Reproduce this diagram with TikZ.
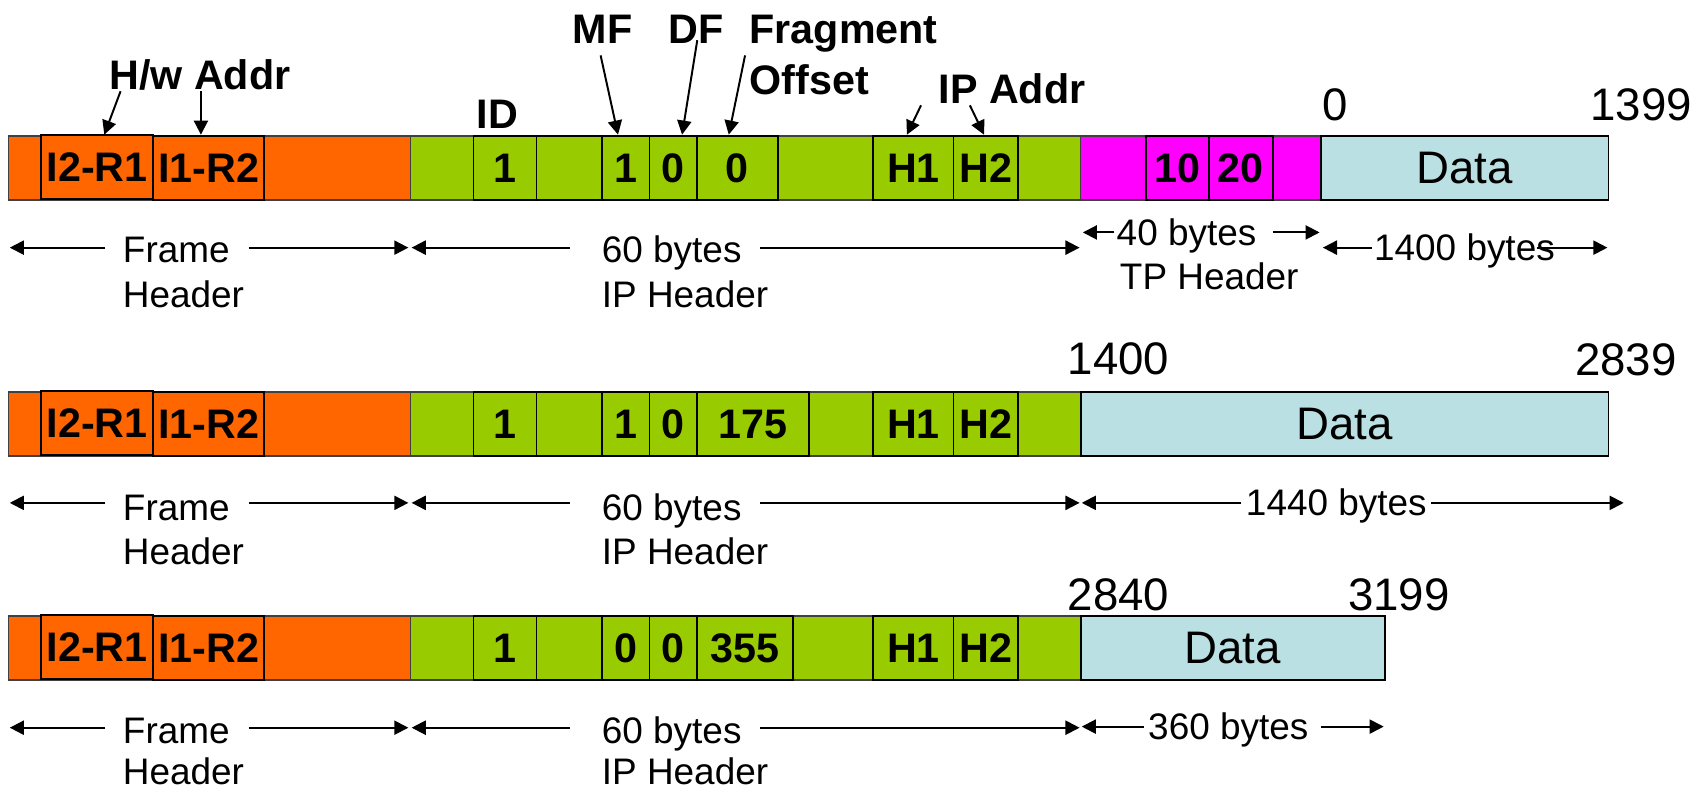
\documentclass[tikz,border=0pt]{standalone}
\usepackage{fontspec}
\setmainfont{Liberation Sans}
\usetikzlibrary{arrows.meta}
\definecolor{orng}{RGB}{255,102,0}
\definecolor{grn}{RGB}{153,204,0}
\definecolor{mag}{RGB}{255,0,255}
\definecolor{lblue}{RGB}{187,224,227}
\tikzset{
  cellbox/.style={draw=black, line width=1.6pt, inner sep=0pt, outer sep=0pt,
    anchor=north west, minimum height=59pt, font=\bfseries\fontsize{38}{40}\selectfont},
  basebox/.style={cellbox, draw=black!75, line width=1.4pt},
  lbl/.style={inner sep=0pt, font=\fontsize{34}{36}\selectfont},
  blbl/.style={inner sep=0pt, font=\bfseries\fontsize{38}{40}\selectfont},
  num/.style={inner sep=0pt, font=\fontsize{42}{44}\selectfont},
  arr/.style={-{Triangle[length=13pt,width=13pt]}, line width=1.8pt},
}
\newcommand\dtxt{\mdseries\fontsize{42}{44}\selectfont}
% name, x1, x2, top, fill, text
\newcommand\pcell[6]{\node[cellbox, fill=#5, minimum width={#3-#2}] (#1) at (#2,#4) {#6};}
\newcommand\pbase[5]{\node[basebox, fill=#5, minimum width={#3-#2}] (#1) at (#2,#4) {};}
% connector between two named coordinates
\newcommand\darr[3]{\coordinate (#1s) at (#2); \coordinate (#1e) at (#3); \draw[arr] (#1s) -- (#1e);}
% prefix, top, MF, DF, offset, offset cell right
\newcommand\hdrrow[6]{%
  \pbase{#1o}{8}{378}{#2}{orng}
  \pbase{#1g}{378}{995}{#2}{grn}
  \pcell{#1a}{38}{141}{#2-1}{orng}{I2-R1}
  \pcell{#1b}{141}{243}{#2}{orng}{I1-R2}
  \pcell{#1id}{436}{494}{#2}{grn}{1}
  \pcell{#1c}{494}{554}{#2}{grn}{}
  \pcell{#1mf}{554}{598}{#2}{grn}{#3}
  \pcell{#1df}{598}{642}{#2}{grn}{#4}
  \pcell{#1fo}{642}{#6}{#2}{grn}{#5}
  \pcell{#1h1}{804}{878}{#2}{grn}{H1}
  \pcell{#1h2}{878}{937}{#2}{grn}{H2}
}
% prefix, arrow y, first baseline, second baseline
\newcommand\lblrow[4]{%
  \node[lbl, anchor=base west] (#1fr) at (113,#3) {Frame};
  \node[lbl, anchor=base west] (#1fh) at (113,#4) {Header};
  \node[lbl, anchor=base west] (#1ib) at (554,#3) {60 bytes};
  \node[lbl, anchor=base west] (#1ih) at (554,#4) {IP Header};
  \darr{#1fl}{97,#2}{9,#2}
  \darr{#1frr}{229,#2}{376,#2}
  \darr{#1il}{525,#2}{379,#2}
  \darr{#1ir}{700,#2}{994,#2}
}
\begin{document}
\begin{tikzpicture}[x=1pt,y=-1pt]
\useasboundingbox (0,0) rectangle (1568,729);

% ---------------- Row 1 ----------------
\hdrrow{ra}{125}{1}{0}{0}{716}
\pbase{ram}{995}{1216}{125}{mag}
\pcell{rat1}{1055}{1113}{125}{mag}{10}
\pcell{rat2}{1113}{1172}{125}{mag}{20}
\pcell{rad}{1216}{1481}{125}{lblue}{\dtxt Data}

\node[blbl, anchor=base] (hw) at (184,82) {H/w Addr};
\node[blbl, anchor=base] (idl) at (458,118) {ID};
\node[blbl, anchor=base] (mfl) at (555,40) {MF};
\node[blbl, anchor=base] (dfl) at (641,40) {DF};
\node[blbl, anchor=base west] (fol1) at (690,40) {Fragment};
\node[blbl, anchor=base west] (fol2) at (690,87) {Offset};
\node[blbl, anchor=base west] (ipl) at (864,95) {IP Addr};
\node[num, anchor=base west] (n0) at (1217,111) {0};
\node[num, anchor=base east] (n1399) at (1558,111) {1399};

\darr{hwa}{111,84}{96,124}
\darr{hwb}{185,84}{185,124}
\darr{mfa}{553,51}{569,124}
\darr{dfa}{642,37}{628,124}
\darr{foa}{686,51}{671,124}
\darr{ipa}{848,97}{835,124}
\darr{ipb}{893,97}{906,124}

\lblrow{la}{228}{242}{283}
\node[lbl, anchor=base west] (tpb) at (1028,226) {40 bytes};
\node[lbl, anchor=base west] (tph) at (1031,267) {TP Header};
\darr{tpl}{1026,214}{997,214}
\darr{tpr}{1172,214}{1215,214}
\node[lbl, anchor=base west] (dab) at (1265,240) {1400 bytes};
\darr{dal}{1263,228}{1218,228}
\darr{dar}{1415,228}{1480,228}

% ---------------- Row 2 ----------------
\hdrrow{rb}{361}{1}{0}{175}{745}
\pcell{rbd}{995}{1481}{361}{lblue}{\dtxt Data}
\node[num, anchor=base west] (n1400) at (983,345) {1400};
\node[num, anchor=base east] (n2839) at (1544,346) {2839};
\lblrow{lb}{463}{479}{520}
\node[lbl, anchor=base west] (dbb) at (1147,475) {1440 bytes};
\darr{dbl}{1143,463}{996,463}
\darr{dbr}{1318,463}{1495,463}

% ---------------- Row 3 ----------------
\hdrrow{rc}{567}{0}{0}{355}{730}
\pcell{rcd}{995}{1275}{567}{lblue}{\dtxt Data}
\node[num, anchor=base west] (n2840) at (983,562) {2840};
\node[num, anchor=base west] (n3199) at (1241,562) {3199};
\lblrow{lc}{670}{685}{722}
\node[lbl, anchor=base west] (dcb) at (1057,681) {360 bytes};
\darr{dcl}{1053,669}{996,669}
\darr{dcr}{1216,669}{1274,669}
\end{tikzpicture}
\end{document}
